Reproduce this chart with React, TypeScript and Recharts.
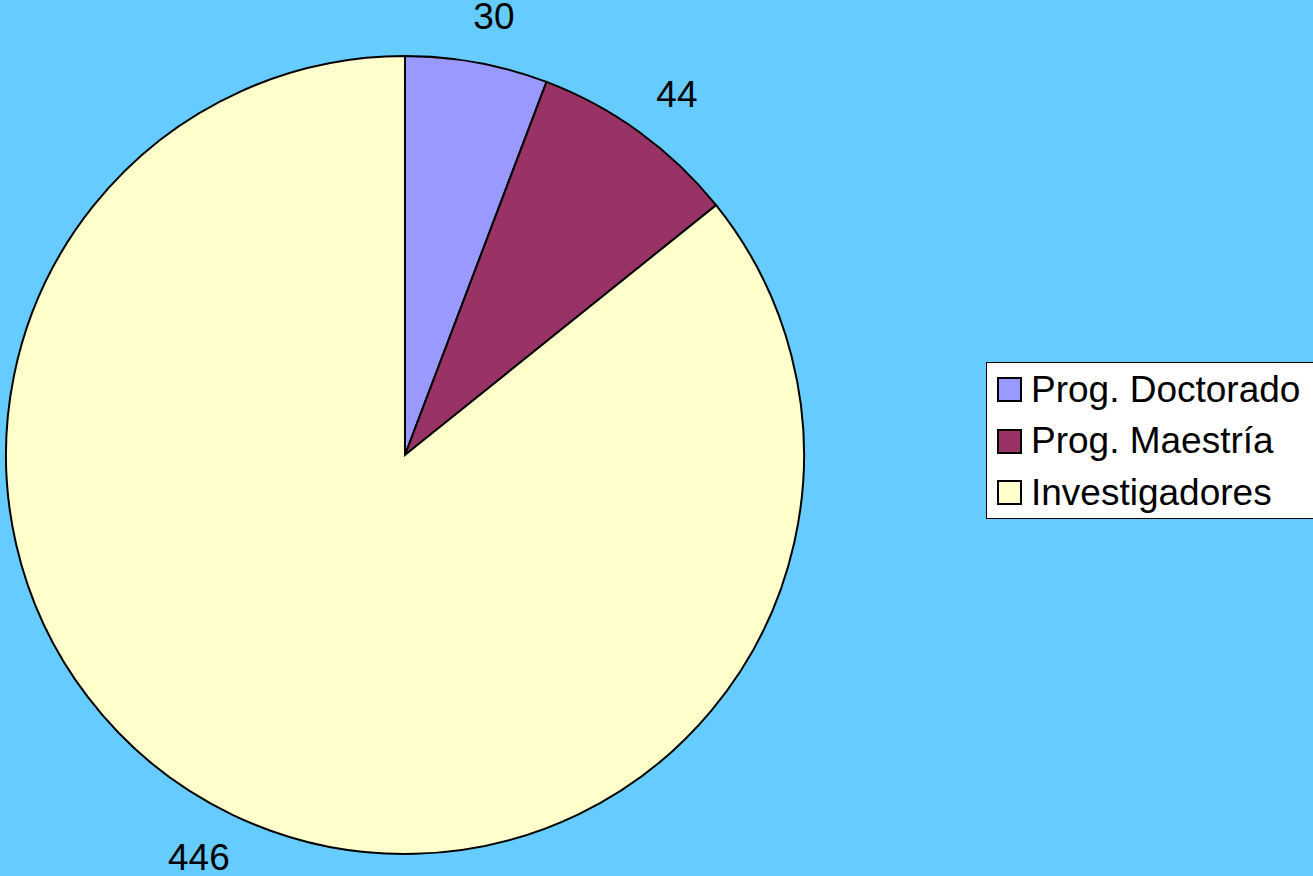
import React from "react";
import { PieChart, Pie, Cell, Legend } from "recharts";

const categories = ["Prog. Doctorado", "Prog. Maestría", "Investigadores"];
const values = [30, 44, 446];
const colors = ["#9999FF", "#993366", "#FFFFCC"];

const data = categories.map((name, i) => ({ name, value: values[i] }));

const FONT = "'Liberation Sans', Arial, sans-serif";
const RADIAN = Math.PI / 180;

const renderLabel = (props: any) => {
  const { cx, cy, midAngle, outerRadius, value } = props;
  const cos = Math.cos(-midAngle * RADIAN);
  const sin = Math.sin(-midAngle * RADIAN);
  // excel-like outside end labels, pushed outward a bit by text width
  const push = String(value).length * 4;
  const x = cx + (outerRadius + 50) * cos + Math.sign(cos) * push;
  const y = cy + (outerRadius + 47) * sin;
  return (
    <text
      x={x}
      y={y}
      fill="#000"
      fontSize={37}
      fontFamily={FONT}
      textAnchor="middle"
      dominantBaseline="central"
    >
      {value}
    </text>
  );
};

const renderLegend = (props: any) => {
  const payload = [...(props.payload || [])].sort(
    (a: any, b: any) => categories.indexOf(a.value) - categories.indexOf(b.value)
  );
  return (
    <div
      style={{
        background: "#fff",
        border: "1px solid #000",
        paddingTop: 1,
        boxSizing: "border-box",
        height: 157,
        fontFamily: FONT,
        fontSize: 37,
      }}
    >
      {payload.map((entry: any, i: number) => (
        <div key={i} style={{ display: "flex", alignItems: "center", height: 51.5 }}>
          <span
            style={{
              display: "inline-block",
              width: 21,
              height: 21,
              marginLeft: 10,
              marginRight: 9,
              border: "2px solid #000",
              background: entry.color,
            }}
          />
          <span style={{ color: "#000" }}>{entry.value}</span>
        </div>
      ))}
    </div>
  );
};

export default function App() {
  return (
    <div
      style={{
        position: "fixed",
        left: 0,
        top: 0,
        width: 1313,
        height: 876,
        background: "#66CCFF",
      }}
    >
      <PieChart width={1313} height={876} margin={{ top: 0, right: 0, bottom: 0, left: 0 }}>
        <Pie
          data={data}
          dataKey="value"
          nameKey="name"
          cx={405}
          cy={455}
          outerRadius={399}
          startAngle={90}
          endAngle={-270}
          stroke="#000"
          strokeWidth={2}
          label={renderLabel}
          labelLine={false}
          isAnimationActive={false}
        >
          {data.map((d, i) => (
            <Cell key={d.name} fill={colors[i]} />
          ))}
        </Pie>
        <Legend
          layout="vertical"
          align="right"
          verticalAlign="middle"
          content={renderLegend}
          wrapperStyle={{ left: 986, top: 362, width: 330, right: "auto", bottom: "auto" }}
        />
      </PieChart>
    </div>
  );
}
